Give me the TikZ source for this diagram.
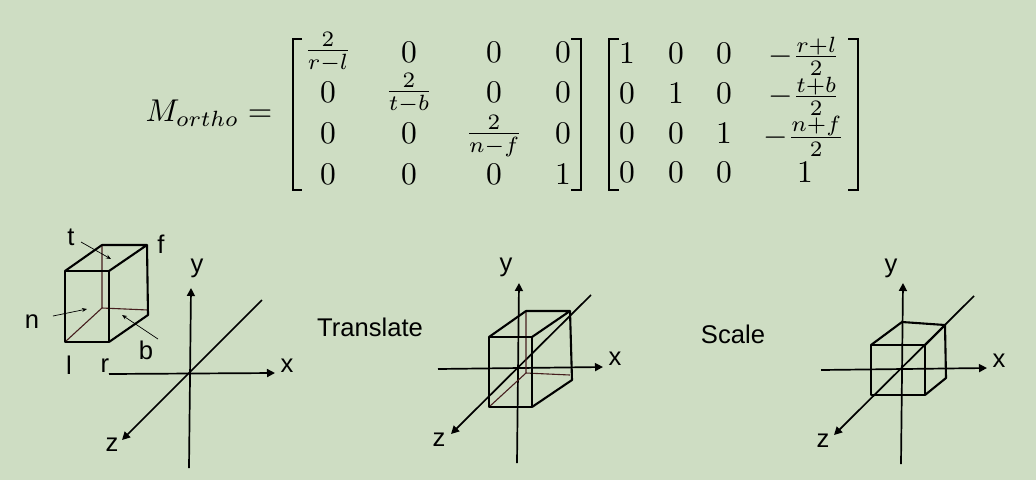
\documentclass[tikz,border=0pt]{standalone}
\usepackage[no-math]{fontspec}
\usetikzlibrary{arrows.meta}
\newfontfamily\arialfont{Liberation Sans}
\definecolor{slidebg}{RGB}{206,221,195}
\definecolor{hiddenline}{RGB}{70,30,30}
\tikzset{
  entry/.style={inner sep=0pt, scale=3.15},
  bracket/.style={line width=2.4pt, line cap=butt, line join=miter},
  letter/.style={inner sep=0pt, font=\fontsize{25.6}{28}\selectfont\arialfont},
  boxline/.style={line width=2.1pt, line join=round},
  hidden/.style={line width=1.1pt, hiddenline},
  axisarrow/.style={line width=1.7pt, -{Triangle[length=8pt,width=8pt]}},
  thinarrow/.style={line width=0.7pt, -{Stealth[length=5pt,width=4pt]}},
}
\begin{document}
\begin{tikzpicture}[x=1pt, y=-1pt]
    \fill[slidebg] (0,0) rectangle (1036,480);
    \useasboundingbox (0,0) rectangle (1036,480);
    % equation
    \node[entry] (mortho) at (209,113) {$M_{ortho}=$};
    % left matrix
    \node[entry] (a11) at (328,52) {$\frac{2}{r-l}$};
    \node[entry] (a12) at (409,52) {$0$};
    \node[entry] (a13) at (494,52) {$0$};
    \node[entry] (a14) at (563,52) {$0$};
    \node[entry] (a21) at (328,92) {$0$};
    \node[entry] (a22) at (409,93) {$\frac{2}{t-b}$};
    \node[entry] (a23) at (494,92) {$0$};
    \node[entry] (a24) at (563,92) {$0$};
    \node[entry] (a31) at (328,133) {$0$};
    \node[entry] (a32) at (409,133) {$0$};
    \node[entry] (a33) at (494,136) {$\frac{2}{n-f}$};
    \node[entry] (a34) at (563,133) {$0$};
    \node[entry] (a41) at (328,174) {$0$};
    \node[entry] (a42) at (409,174) {$0$};
    \node[entry] (a43) at (494,174) {$0$};
    \node[entry] (a44) at (563,174) {$1$};
    \draw[bracket] (302,39) -- (293,39) -- (293,190) -- (302,190);
    \draw[bracket] (571,39) -- (581,39) -- (581,190) -- (571,190);
    % right matrix
    \node[entry] (b11) at (627,53) {$1$};
    \node[entry] (b12) at (676,53) {$0$};
    \node[entry] (b13) at (724,53) {$0$};
    \node[entry] (b14) at (804,56) {$-\frac{r+l}{2}$};
    \node[entry] (b21) at (627,93) {$0$};
    \node[entry] (b22) at (676,93) {$1$};
    \node[entry] (b23) at (724,93) {$0$};
    \node[entry] (b24) at (804,96) {$-\frac{t+b}{2}$};
    \node[entry] (b31) at (627,133) {$0$};
    \node[entry] (b32) at (676,133) {$0$};
    \node[entry] (b33) at (724,133) {$1$};
    \node[entry] (b34) at (804,136) {$-\frac{n+f}{2}$};
    \node[entry] (b41) at (627,172) {$0$};
    \node[entry] (b42) at (676,172) {$0$};
    \node[entry] (b43) at (724,172) {$0$};
    \node[entry] (b44) at (805,172) {$1$};
    \draw[bracket] (619,39) -- (609,39) -- (609,190) -- (619,190);
    \draw[bracket] (848,39) -- (858,39) -- (858,190) -- (848,190);
    % first box with its labels
    \draw[hidden] (102,245) -- (102,308) -- (148,310);
    \draw[hidden] (102,308) -- (65,342);
    \draw[boxline] (65,271) rectangle (109,342);
    \draw[boxline] (65,271) -- (102,245) -- (147,245) -- (109,271);
    \draw[boxline] (147,245) -- (148,315) -- (109,342);
    \draw[thinarrow] (81,242) -- (111,259);
    \draw[thinarrow] (53,316) -- (87,309);
    \draw[thinarrow] (158,339) -- (122,315);
    \node[letter] (labelt) at (71,237) {t};
    \node[letter] (labelf) at (161,244) {f};
    \node[letter] (labeln) at (32,322) {n};
    \node[letter] (labell) at (69,365) {l};
    \node[letter] (labelr) at (105,366) {r};
    \node[letter] (labelb) at (146,350) {b};
    % first axes
    \draw[axisarrow] (189,468) -- (191,288);
    \draw[axisarrow] (109,374) -- (275,373);
    \draw[axisarrow] (262,300) -- (122,440);
    \node[letter] (y1) at (197,268) {y};
    \node[letter] (x1) at (287,366) {x};
    \node[letter] (z1) at (112,445) {z};
    % translate
    \node[letter] (translate) at (370,327) {Translate};
    \draw[axisarrow] (517,463) -- (519,283);
    \draw[axisarrow] (438,369) -- (603,367);
    \draw[axisarrow] (591,295) -- (451,434);
    \draw[hidden] (526,311) -- (526,373) -- (570,375);
    \draw[hidden] (526,373) -- (489,407);
    \draw[boxline] (489,337) rectangle (532,407);
    \draw[boxline] (489,337) -- (526,311) -- (570,311) -- (532,337);
    \draw[boxline] (570,311) -- (572,380) -- (532,407);
    \node[letter] (y2) at (506,267) {y};
    \node[letter] (x2) at (615,359) {x};
    \node[letter] (z2) at (439,440) {z};
    % scale
    \node[letter] (scale) at (733,334) {Scale};
    \draw[axisarrow] (901,464) -- (903,283);
    \draw[axisarrow] (821,370) -- (987,368);
    \draw[axisarrow] (974,296) -- (834,435);
    \draw[boxline] (871,345) rectangle (925,395);
    \draw[boxline] (871,345) -- (902,322) -- (945,325) -- (925,345);
    \draw[boxline] (945,325) -- (946,378) -- (925,395);
    \node[letter] (y3) at (891,268) {y};
    \node[letter] (x3) at (999,361) {x};
    \node[letter] (z3) at (823,441) {z};
\end{tikzpicture}
\end{document}
